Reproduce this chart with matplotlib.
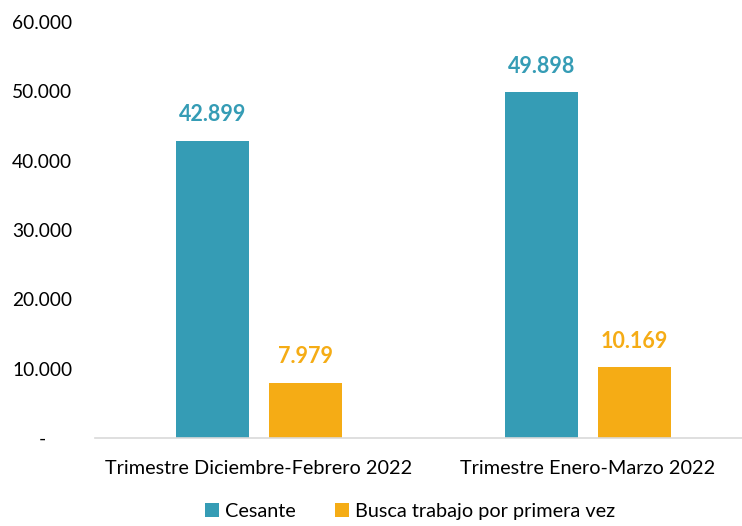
import matplotlib.pyplot as plt
import numpy as np

# datos
categorias = ['Trimestre Diciembre-Febrero 2022', 'Trimestre Enero-Marzo 2022']
cesante = [42899, 49898]
busca_primera = [7979, 10169]
y_ticks = [0, 10000, 20000, 30000, 40000, 50000, 60000]
y_labels = ['-', '10.000', '20.000', '30.000', '40.000', '50.000', '60.000']

c_teal = '#359CB5'
c_orange = '#F5AC15'

plt.rcParams['font.family'] = ['Lato', 'DejaVu Sans']

def fmt(v):
    return f'{v:,}'.replace(',', '.')

fig = plt.figure(figsize=(7.42, 5.26), dpi=100)
ax = fig.add_axes([95 / 742, 88 / 526, 647 / 742, 416 / 526])

x = np.arange(len(categorias))
w = 0.222
off = 0.142
b1 = ax.bar(x - off, cesante, w, color=c_teal, label='Cesante')
b2 = ax.bar(x + off, busca_primera, w, color=c_orange, label='Busca trabajo por primera vez')

for bars, col in ((b1, c_teal), (b2, c_orange)):
    for b in bars:
        ax.annotate(fmt(int(b.get_height())), (b.get_x() + b.get_width() / 2, b.get_height()),
                    xytext=(0, 11), textcoords='offset points', ha='center', va='bottom',
                    fontsize=15.5, fontweight='bold', color=col)

ax.set_xlim(-0.4985, 1.468)
ax.set_ylim(0, 60000)
ax.set_yticks(y_ticks)
ax.set_yticklabels(y_labels)
ax.set_xticks(x)
ax.set_xticklabels(categorias)
ax.tick_params(axis='both', length=0, labelsize=14.3, colors='#000000')
ax.tick_params(axis='x', pad=16)
for lbl in ax.get_yticklabels():
    lbl.set_horizontalalignment('center')
    lbl.set_fontsize(13.8)
ax.tick_params(axis='y', pad=38)

for s in ['top', 'right', 'left']:
    ax.spines[s].set_visible(False)
ax.spines['bottom'].set_color('#D9D9D9')
ax.spines['bottom'].set_linewidth(1.2)

fig.legend(loc='lower center', bbox_to_anchor=(0.553, -0.022), ncol=2, frameon=False,
           fontsize=14.3, handlelength=0.7, handleheight=0.7, handletextpad=0.3,
           columnspacing=2.0)

fig.savefig('out.png', dpi=100)
